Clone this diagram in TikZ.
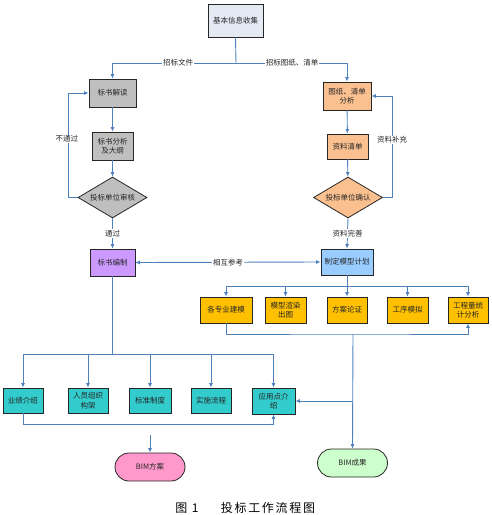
\documentclass[tikz,border=0pt]{standalone}
\usepackage{fontspec}
\newfontfamily\cjk{Noto Sans CJK SC}
\newfontfamily\cjkcap[LetterSpace=14]{Noto Sans CJK SC}
\usetikzlibrary{arrows.meta,shapes.geometric}
\definecolor{lineblue}{HTML}{4F81BD}
\definecolor{infofill}{HTML}{E4E9F4}
\definecolor{grayfill}{HTML}{BFBFBF}
\definecolor{purplefill}{HTML}{CC99FF}
\definecolor{orangefill}{HTML}{FAC08F}
\definecolor{planfill}{HTML}{99CCFF}
\definecolor{yellowfill}{HTML}{FFC000}
\definecolor{cyanfill}{HTML}{33CCCC}
\definecolor{pinkfill}{HTML}{FF99CC}
\definecolor{greenfill}{HTML}{CCFFCC}
\begin{document}
\begin{tikzpicture}[x=1pt,y=-1pt,
  every node/.style={font=\cjk\fontsize{7.5}{9.5}\selectfont, text=black!85},
  box/.style={draw=black!85, line width=0.8pt, rectangle, align=center, inner sep=1pt},
  dia/.style={draw=black!85, line width=0.8pt, diamond, shape aspect=1.7, inner sep=0pt, minimum width=69pt, minimum height=41pt},
  term/.style={draw=black!85, line width=0.8pt, rectangle, rounded corners=14pt, minimum height=28pt, minimum width=70pt},
  conn/.style={draw=lineblue, line width=0.9pt, -{Latex[length=4.5pt,width=4pt]}},
  plain/.style={draw=lineblue, line width=0.9pt},
  lbl/.style={fill=white, inner sep=1pt}
]
\useasboundingbox (0,0) rectangle (492,515);

% nodes
\node[box, fill=infofill, minimum width=55pt, minimum height=33pt] (info) at (235.5,20.5) {基本信息收集};
\node[box, fill=grayfill, minimum width=47pt, minimum height=28pt] (jd) at (112.5,93) {标书解读};
\node[box, fill=grayfill, minimum width=41pt, minimum height=28pt] (fx) at (112.5,146) {标书分析\\及大纲};
\node[dia, fill=grayfill] (sh) at (112.5,197.5) {投标单位审核};
\node[box, fill=purplefill, minimum width=45pt, minimum height=27pt] (bz) at (112.5,262.5) {标书编制};

\node[box, fill=orangefill, minimum width=48pt, minimum height=28pt] (tz) at (347,96) {图纸、清单\\分析};
\node[box, fill=orangefill, minimum width=41pt, minimum height=25pt] (zl) at (347.5,146.5) {资料清单};
\node[dia, fill=orangefill] (qr) at (348,197.5) {投标单位确认};
\node[box, fill=planfill, minimum width=52pt, minimum height=26pt] (jh) at (347,262) {制定模型计划};

\node[box, fill=yellowfill, minimum width=52pt, minimum height=26pt] (y1) at (226,310) {各专业建模};
\node[box, fill=yellowfill, minimum width=41pt, minimum height=26pt] (y2) at (285.5,310) {模型渲染\\出图};
\node[box, fill=yellowfill, minimum width=40pt, minimum height=26pt] (y3) at (347,310) {方案论证};
\node[box, fill=yellowfill, minimum width=41pt, minimum height=26pt] (y4) at (407.5,310) {工序模拟};
\node[box, fill=yellowfill, minimum width=40pt, minimum height=26pt] (y5) at (468,310) {工程量统\\计分析};

\node[box, fill=cyanfill, minimum width=40pt, minimum height=25pt] (c1) at (23,400.5) {业绩介绍};
\node[box, fill=cyanfill, minimum width=40pt, minimum height=25pt] (c2) at (88,400.5) {人员组织\\构架};
\node[box, fill=cyanfill, minimum width=42pt, minimum height=25pt] (c3) at (150,400.5) {标准制度};
\node[box, fill=cyanfill, minimum width=40pt, minimum height=25pt] (c4) at (211,400.5) {实施流程};
\node[box, fill=cyanfill, minimum width=43pt, minimum height=26pt] (c5) at (273.5,401) {应用点介\\绍};

\node[term, fill=pinkfill] (fa) at (150,467) {BIM方案};
\node[term, fill=greenfill] (cg) at (352.5,463) {BIM成果};

% coordinates
\coordinate (split) at (236,63);
\coordinate (lloop) at (68,197.5);
\coordinate (rloop) at (392,197.5);
\coordinate (b1) at (347,286);
\coordinate (b2) at (353,334);
\coordinate (b3) at (112.5,354);
\coordinate (b4) at (23,424);
\coordinate (fa0) at (150,435);

% connectors top
\draw[plain] (info.south) -- (split);
\draw[conn] (split) -| (jd.north);
\draw[conn] (split) -| (tz.north);
\node[lbl] at (178,63) {招标文件};
\node[lbl] at (292,63) {招标图纸、清单};

\draw[conn] (jd) -- (fx);
\draw[conn] (fx) -- (sh);
\draw[conn] (sh.west) -- (lloop) |- (jd.west);
\node[lbl] at (67,139) {不通过};
\draw[conn] (sh.south) -- (bz.north) node[lbl, pos=0.5] {通过};

\draw[conn] (tz) -- (zl);
\draw[conn] (zl) -- (qr);
\draw[conn] (qr.east) -- (rloop) |- (tz.east);
\node[lbl] at (392,140) {资料补充};
\draw[conn] (qr.south) -- (jh.north) node[lbl, pos=0.5] {资料完善};

\draw[draw=lineblue, line width=0.9pt, {Latex[length=4.5pt,width=4pt]}-{Latex[length=4.5pt,width=4pt]}] (bz.east) -- (jh.west) node[lbl, pos=0.5] {相互参考};

% model plan bus
\draw[plain] (jh.south) -- (b1);
\draw[conn] (b1) -| (y1.north);
\draw[conn] (b1) -| (y5.north);
\draw[conn] (y2.north |- b1) -- (y2.north);
\draw[conn] (b1) -- (y3.north);
\draw[conn] (y4.north |- b1) -- (y4.north);

\draw[conn] (y1.south) |- (b2) -| (y5.south);
\draw[conn] (b2) -- (cg.north);
\draw[conn] (b2 |- c5.east) -- (c5.east);

% bid document bus
\draw[plain] (bz.south) -- (b3);
\draw[conn] (b3) -| (c1.north);
\draw[conn] (b3) -| (c5.north);
\draw[conn] (c2.north |- b3) -- (c2.north);
\draw[conn] (c3.north |- b3) -- (c3.north);
\draw[conn] (c4.north |- b3) -- (c4.north);

\draw[conn] (c1.south) |- (b4) -| (c5.south);
\draw[conn] (fa0) -- (fa.north);

% caption
\node[font=\cjkcap\fontsize{12}{14}\selectfont, text=black] (cap1) at (187,508) {图 1};
\node[font=\cjkcap\fontsize{12}{14}\selectfont, text=black] (cap2) at (268,508) {投标工作流程图};
\end{tikzpicture}
\end{document}
